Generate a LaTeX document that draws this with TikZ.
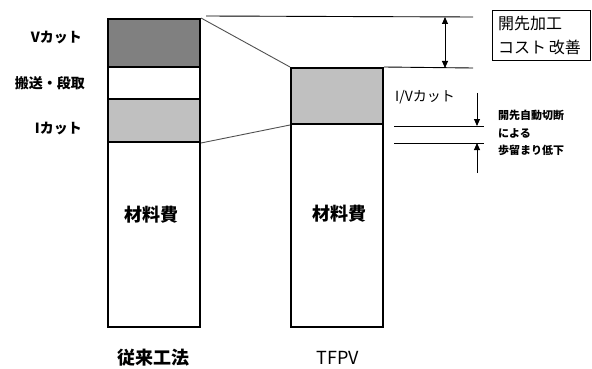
\documentclass[tikz,border=0pt]{standalone}
\usepackage{fontspec}
\newfontfamily\jp{Noto Sans CJK JP}
\usetikzlibrary{arrows.meta}
\definecolor{vgray}{HTML}{808080}
\definecolor{lgray}{HTML}{C0C0C0}
\definecolor{dline}{HTML}{505050}
\begin{document}
\begin{tikzpicture}[x=1pt,y=-1pt,
  seg/.style={draw,line width=2pt,rectangle,inner sep=0pt,minimum width=92pt},
  thinln/.style={line width=0.9pt},
  diag/.style={line width=0.9pt,draw=dline},
  arr/.style={line width=0.9pt,-{Triangle[length=7pt,width=6pt]}},
  darr/.style={line width=0.9pt,{Triangle[length=7pt,width=6pt]}-{Triangle[length=7pt,width=6pt]}},
  lbl/.style={font=\jp\bfseries\fontsize{14}{16}\selectfont,inner sep=0pt},
  big/.style={font=\jp\bfseries\fontsize{18}{20}\selectfont,inner sep=0pt},
  small/.style={font=\jp\bfseries\fontsize{11}{17.5}\selectfont,inner sep=0pt,align=left},
  plain/.style={font=\jp\fontsize{14}{16}\selectfont,inner sep=0pt},
  boxtxt/.style={draw,line width=0.9pt,font=\jp\fontsize{16}{24}\selectfont,inner sep=0pt,
     minimum width=98pt,minimum height=50pt,text width=86pt,align=left}
]
\useasboundingbox (0,0) rectangle (592,369);
% left column
\node[seg,minimum height=48pt,fill=vgray] (lv) at (154,43) {};
\node[seg,minimum height=32pt] (lh) at (154,83) {};
\node[seg,minimum height=43pt,fill=lgray] (li) at (154,120.5) {};
\node[seg,minimum height=185pt] (lm) at (154,234.5) {};
% right column
\node[seg,minimum height=56pt,fill=lgray] (riv) at (337,96) {};
\node[seg,minimum height=203pt] (rm) at (337,225.5) {};
% texts in columns
\node[big] (lmt) at (151,215) {材料費};
\node[big] (rmt) at (339,214) {材料費};
% left labels
\node[lbl,anchor=east] (tv) at (82,38) {Vカット};
\node[lbl,anchor=east] (th) at (85,83) {搬送・段取};
\node[lbl,anchor=east] (ti) at (82,129) {Iカット};
% bottom labels
\node[big,anchor=base] (b1) at (153,364) {従来工法};
\node[big,anchor=base,font=\jp\fontsize{18}{20}\selectfont] (b2) at (338,364) {TFPV};
% right side
\coordinate (t1) at (473,17);
\coordinate (t2) at (473,68);
\coordinate (a1) at (445,17);
\coordinate (a2) at (445,68);
\draw[thinln] ([xshift=5pt,yshift=2pt]lv.north east) -- (t1);
\draw[diag] (lv.north east) -- (riv.north west);
\draw[diag] (li.south east) -- (riv.south west);
\draw[thinln] (riv.north east) -- (t2);
\draw[darr] (a1) -- (a2);
\node[boxtxt] (cb) at (541,35) {開先加工\\コスト\hspace{3pt}改善};
\node[plain,anchor=west] (ivt) at (395,97) {I/Vカット};
\coordinate (l1a) at (394,126);
\coordinate (l1b) at (484,126);
\coordinate (l2a) at (394,143);
\coordinate (l2b) at (484,143);
\draw[thinln] (l1a) -- (l1b);
\draw[thinln] (l2a) -- (l2b);
\coordinate (d1) at (477,93);
\coordinate (d2) at (477,126);
\coordinate (u1) at (477,173);
\coordinate (u2) at (477,143);
\draw[arr] (d1) -- (d2);
\draw[arr] (u1) -- (u2);
\node[small,anchor=west] (nt) at (498,133) {開先自動切断\\による\\歩留まり低下};
\end{tikzpicture}
\end{document}
